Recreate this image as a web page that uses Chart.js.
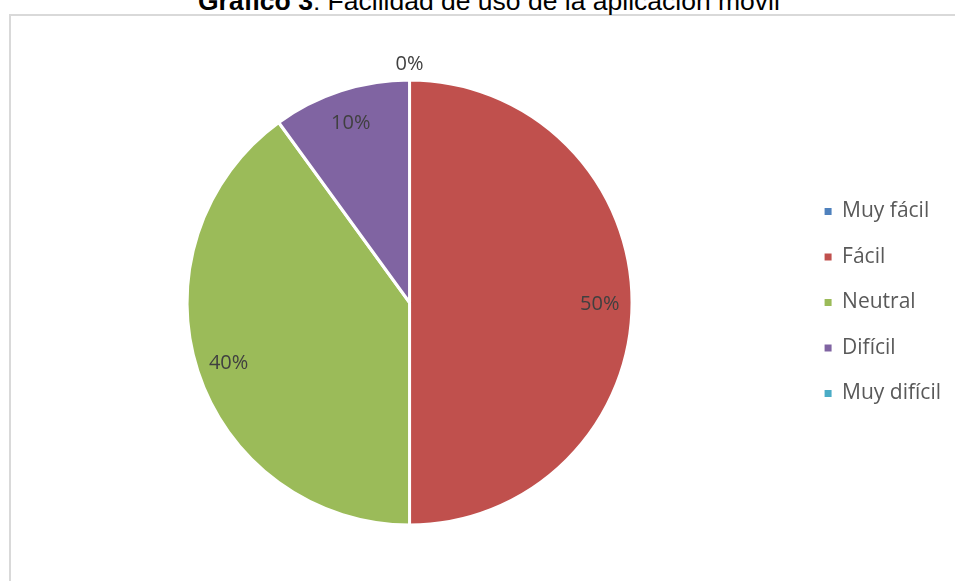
<!DOCTYPE html>
<html>
<head>
<meta charset="utf-8">
<script src="https://cdn.jsdelivr.net/npm/chart.js@4.4.1/dist/chart.umd.min.js"></script>
<style>
  html, body { margin: 0; padding: 0; background: #ffffff; overflow: hidden; }
  body { width: 955px; height: 581px; position: relative; }
  #frame { position: absolute; left: 9px; top: 14px; width: 1200px; height: 900px; border: 2px solid #d9d9d9; box-sizing: border-box; }
  #title { position: absolute; left: 198px; top: -12px; font-family: "Liberation Sans", Arial, sans-serif; font-size: 26.5px; line-height: 26.5px; color: #000; white-space: nowrap; }
  #wrap { position: absolute; left: 0; top: 0; width: 955px; height: 581px; }
</style>
</head>
<body>
<div id="frame"></div>
<div id="title"><b>Gráfico 3</b>: Facilidad de uso de la aplicación móvil</div>
<div id="wrap"><canvas id="c" width="955" height="581"></canvas></div>
<script>
const categories = ["Muy fácil", "Fácil", "Neutral", "Difícil", "Muy difícil"];
const values = [0, 50, 40, 10, 0];
const percentLabels = ["0%", "50%", "40%", "10%", "0%"];
const colors = ["#4F81BD", "#C0504D", "#9BBB59", "#8064A2", "#4BACC6"];

const labelPlugin = {
  id: "sliceLabels",
  afterDatasetsDraw(chart) {
    const ctx = chart.ctx;
    const meta = chart.getDatasetMeta(0);
    const drawn = [];
    ctx.save();
    ctx.font = "20px 'Open Sans'";
    ctx.fillStyle = "#404040";
    ctx.textAlign = "center";
    ctx.textBaseline = "middle";
    meta.data.forEach((arc, i) => {
      const p = arc.getProps(["x", "y", "startAngle", "endAngle", "outerRadius"], true);
      const mid = (p.startAngle + p.endAngle) / 2;
      const r = values[i] === 0 ? p.outerRadius + 18 : p.outerRadius * 0.855;
      const lx = p.x + Math.cos(mid) * r;
      const ly = p.y + Math.sin(mid) * r + 2;
      if (drawn.some(d => Math.abs(d[0] - lx) < 2 && Math.abs(d[1] - ly) < 2)) return;
      drawn.push([lx, ly]);
      ctx.fillText(percentLabels[i], lx, ly);
    });
    ctx.restore();
  }
};

new Chart(document.getElementById("c"), {
  type: "pie",
  data: {
    labels: categories,
    datasets: [{
      data: values,
      backgroundColor: colors,
      borderColor: "#ffffff",
      borderWidth: 3,
      hoverOffset: 0,
      radius: 222.5
    }]
  },
  options: {
    responsive: false,
    animation: false,
    events: [],
    layout: { padding: { left: 19, right: 4, top: 81, bottom: 57 } },
    plugins: {
      title: { display: false },
      tooltip: { enabled: false },
      legend: {
        position: "right",
        align: "center",
        labels: {
          boxWidth: 7,
          boxHeight: 7,
          padding: 24.5,
          color: "#595959",
          font: { family: "'Open Sans'", size: 21 },
          generateLabels(chart) {
            const items = Chart.overrides.pie.plugins.legend.labels.generateLabels(chart);
            items.forEach(it => { it.lineWidth = 0; it.strokeStyle = it.fillStyle; });
            return items;
          }
        }
      }
    }
  },
  plugins: [labelPlugin]
});
</script>
</body>
</html>
